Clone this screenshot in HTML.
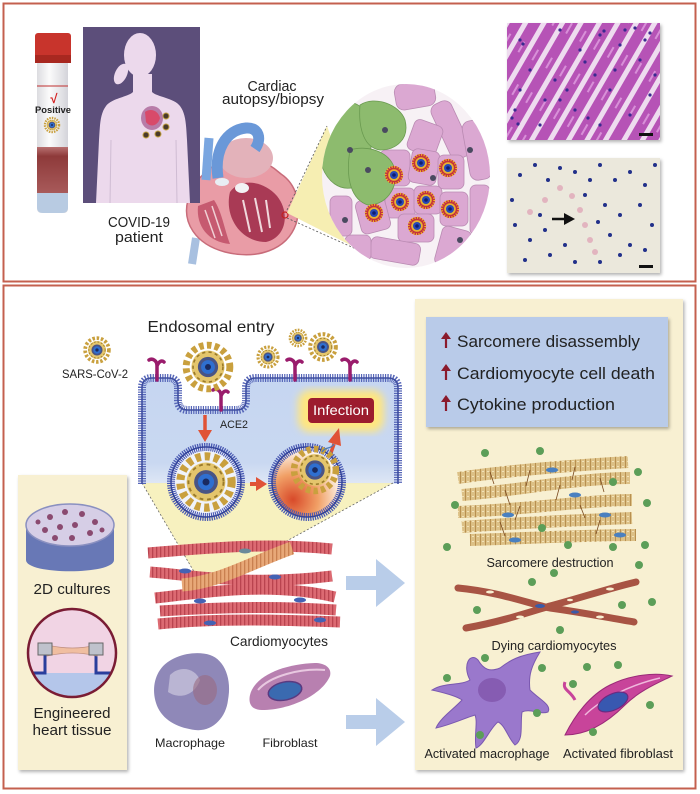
<!DOCTYPE html>
<html><head><meta charset="utf-8">
<style>
html,body{margin:0;padding:0;background:#fff;}
svg{display:block;}
text{font-family:"Liberation Sans",sans-serif;fill:#222;}
</style></head>
<body>
<svg width="700" height="794" viewBox="0 0 700 794" xmlns="http://www.w3.org/2000/svg">
<defs>
  <filter id="sh" x="-10%" y="-10%" width="120%" height="120%"><feDropShadow dx="1.5" dy="2" stdDeviation="1.5" flood-color="#000" flood-opacity="0.3"/></filter>
  <filter id="blur"><feGaussianBlur stdDeviation="4"/></filter>
  <linearGradient id="cellg" x1="0" y1="0" x2="0" y2="1">
    <stop offset="0" stop-color="#c6d6f1"/><stop offset="0.8" stop-color="#c9d8f1"/><stop offset="1" stop-color="#dfe7f5"/>
  </linearGradient>
  <radialGradient id="ves2" cx="0.3" cy="0.75" r="0.8">
    <stop offset="0" stop-color="#d84a2a"/><stop offset="0.45" stop-color="#f1a066"/><stop offset="0.8" stop-color="#fbe6d4"/><stop offset="1" stop-color="#fff"/>
  </radialGradient>
  <linearGradient id="tubeg" x1="0" y1="0" x2="1" y2="0">
    <stop offset="0" stop-color="#dcdce0"/><stop offset="0.4" stop-color="#fbfbfb"/><stop offset="1" stop-color="#d4d4da"/>
  </linearGradient>
  <linearGradient id="bloodg" x1="0" y1="0" x2="0" y2="1">
    <stop offset="0" stop-color="#b87070"/><stop offset="0.2" stop-color="#8e3a3a"/><stop offset="1" stop-color="#a85a5a"/>
  </linearGradient>
  <pattern id="stri" width="4" height="4" patternUnits="userSpaceOnUse">
    <rect width="4" height="4" fill="#dc6a72"/><rect width="1.3" height="4" fill="#b9444f"/>
  </pattern>
  <pattern id="strio" width="4" height="4" patternUnits="userSpaceOnUse">
    <rect width="4" height="4" fill="#e8a878"/><rect width="1.3" height="4" fill="#c98050"/>
  </pattern>
  <pattern id="tan" width="5" height="5" patternUnits="userSpaceOnUse">
    <rect width="5" height="5" fill="#dcc086"/><rect width="1" height="5" fill="#b89050"/><rect x="2" y="1" width="2" height="1" fill="#f2e2b8"/>
  </pattern>
  <pattern id="he" width="16" height="40" patternUnits="userSpaceOnUse" patternTransform="rotate(30)">
    <rect width="16" height="40" fill="#b652b6"/><rect x="0" y="0" width="5" height="40" fill="#eedcef"/><rect x="10" y="14" width="2" height="12" fill="#d890d8"/>
  </pattern>
  <clipPath id="tiss"><ellipse cx="406" cy="176" rx="84" ry="92"/></clipPath>
  <g id="vir">
    <circle r="9.5" fill="none" stroke="#c9a03e" stroke-width="3" stroke-dasharray="2 1.4"/>
    <circle r="7.2" fill="#e4c56c"/>
    <circle r="6.5" fill="none" stroke="#9a7a2a" stroke-width="0.7" stroke-dasharray="1.4 1.4"/>
    <circle r="4.4" fill="#4a5484"/>
    <circle r="3" fill="#2f6fd0"/>
    <circle r="1.3" fill="#1a2a60"/>
  </g>
  <g id="rvir">
    <circle r="9" fill="#c4303c"/>
    <circle r="8.3" fill="none" stroke="#f2c424" stroke-width="2" stroke-dasharray="1 1.6"/>
    <circle r="5.8" fill="#e8b232"/>
    <circle r="4" fill="#2848b8"/>
    <circle r="1.8" fill="#0f1f70"/>
  </g>
</defs>

<!-- ============ TOP PANEL ============ -->
<rect x="3.5" y="3.5" width="692" height="278" fill="#fff" stroke="#c4604f" stroke-width="2"/>

<!-- tube -->
<rect x="37" y="60" width="31" height="153" rx="4" fill="url(#tubeg)"/>
<rect x="37" y="147" width="31" height="46" fill="url(#bloodg)"/>
<path d="M37,193 L68,193 L68,207 Q68,213 62,213 L43,213 Q37,213 37,207 Z" fill="#b8cbe2"/>
<line x1="37" y1="86" x2="68" y2="86" stroke="#c03030" stroke-width="1"/>
<rect x="35" y="33" width="36" height="30" rx="3" fill="#c8342c"/>
<rect x="35" y="55" width="36" height="8" fill="#a82820"/>
<text x="54" y="103" font-size="13" text-anchor="middle" style="fill:#d42020" font-weight="bold">√</text>
<text x="53" y="113" font-size="9.5" text-anchor="middle" font-weight="bold" textLength="36" lengthAdjust="spacingAndGlyphs">Positive</text>
<use href="#vir" transform="translate(52,125) scale(0.75)"/>

<!-- heart (behind purple rect) -->
<path d="M196,238 L192,264" stroke="#a8c0e0" stroke-width="8" fill="none"/>
<path d="M188,200 C182,222 195,244 225,252 C257,260 287,250 296,224 C302,204 296,184 281,174 C265,160 244,150 224,160 C204,170 192,184 188,200 Z" fill="#e99ca6" stroke="#c86c7a" stroke-width="1.5"/>
<ellipse cx="246" cy="158" rx="27" ry="20" fill="#e3b2ba"/>
<path d="M230,192 C224,216 240,242 266,242 C287,237 290,212 277,196 C263,180 240,178 230,192 Z" fill="#a93a55"/>
<path d="M198,206 C196,226 208,242 230,244 C224,228 222,212 214,200 Z" fill="#c65a70"/>
<path d="M243,200 L250,232 M255,198 L262,232 M266,200 L270,228" stroke="#f0d8dc" stroke-width="2"/>
<path d="M205,210 L215,238 M212,206 L222,236" stroke="#f0d0d4" stroke-width="1.5"/>
<path d="M206,180 L209,138" stroke="#7aa6e0" stroke-width="9" fill="none"/>
<path d="M218,178 C214,150 226,130 246,128 C259,127 262,139 255,149" stroke="#6a98d8" stroke-width="11" fill="none"/>
<ellipse cx="222" cy="182" rx="7" ry="4" fill="#e8eef4"/>
<ellipse cx="242" cy="188" rx="7" ry="5" fill="#f2f2f4"/>
<circle cx="285" cy="215" r="3" fill="none" stroke="#c42020" stroke-width="1.2"/>

<!-- purple rect + silhouette -->
<rect x="83" y="27" width="117" height="176" fill="#5c4e7a"/>
<ellipse cx="121" cy="74" rx="6" ry="11" transform="rotate(25 121 74)" fill="#ecd9ec"/>
<ellipse cx="140" cy="55" rx="16" ry="22" fill="#ecd9ec"/>
<path d="M133,74 L133,92 C128,97 112,98 106,106 C100,114 100,125 99,140 L96,203 L190,203 L187,140 C186,125 186,114 180,106 C174,98 157,97 152,92 L152,74 Z" fill="#ecd9ec"/>
<path d="M111,140 L110,203 M176,140 L177,203" stroke="#cfbcd3" stroke-width="1"/>
<ellipse cx="152" cy="118" rx="11" ry="12" fill="#b87ca8"/>
<path d="M145,112 C150,108 158,110 160,118 C158,126 150,128 146,122 Z" fill="#d84a6a"/>
<circle cx="166" cy="116" r="3" fill="#4a3a2a" stroke="#c0a040" stroke-width="1"/>
<circle cx="166" cy="127" r="3" fill="#4a3a2a" stroke="#c0a040" stroke-width="1"/>
<circle cx="158" cy="134" r="3" fill="#4a3a2a" stroke="#c0a040" stroke-width="1"/>
<circle cx="146" cy="135" r="3" fill="#4a3a2a" stroke="#c0a040" stroke-width="1"/>

<text x="139" y="227" font-size="15" text-anchor="middle" textLength="62" lengthAdjust="spacingAndGlyphs">COVID-19</text>
<text x="139" y="242" font-size="15" text-anchor="middle" textLength="48" lengthAdjust="spacingAndGlyphs">patient</text>
<text x="272" y="91" font-size="15" text-anchor="middle" textLength="49" lengthAdjust="spacingAndGlyphs">Cardiac</text>
<text x="273" y="104" font-size="15" text-anchor="middle" textLength="102" lengthAdjust="spacingAndGlyphs">autopsy/biopsy</text>

<!-- wedge to tissue -->
<polygon points="287,213 327,126 374,257" fill="#f6eeb2"/>
<line x1="287" y1="210" x2="327" y2="126" stroke="#555" stroke-width="0.8" stroke-dasharray="2 2"/>
<line x1="287" y1="218" x2="374" y2="257" stroke="#555" stroke-width="0.8" stroke-dasharray="2 2"/>

<!-- tissue circle -->
<ellipse cx="406" cy="176" rx="84" ry="92" fill="#f7f1f5"/>
<g clip-path="url(#tiss)" stroke="#b98ab2" stroke-width="0.8" fill="#dba8d2">
  <rect x="395" y="82" width="40" height="26" rx="8" transform="rotate(-10 415 95)"/>
  <rect x="440" y="100" width="22" height="60" rx="8" transform="rotate(-25 451 130)"/>
  <rect x="466" y="120" width="22" height="60" rx="8" transform="rotate(-10 477 150)"/>
  <rect x="410" y="122" width="30" height="32" rx="6" transform="rotate(20 425 138)"/>
  <rect x="380" y="150" width="30" height="36" rx="6"/>
  <rect x="410" y="150" width="28" height="34" rx="6" transform="rotate(10 424 167)"/>
  <rect x="438" y="155" width="26" height="34" rx="6"/>
  <rect x="385" y="188" width="30" height="30" rx="6"/>
  <rect x="414" y="186" width="28" height="28" rx="6"/>
  <rect x="440" y="192" width="28" height="34" rx="6"/>
  <rect x="470" y="185" width="20" height="50" rx="6"/>
  <rect x="358" y="198" width="30" height="34" rx="6" transform="rotate(-15 373 215)"/>
  <rect x="398" y="214" width="36" height="28" rx="6"/>
  <rect x="438" y="228" width="30" height="40" rx="6" transform="rotate(15 453 248)"/>
  <rect x="370" y="240" width="50" height="22" rx="6" transform="rotate(10 395 251)"/>
  <rect x="330" y="196" width="22" height="40" rx="6"/>
  <rect x="345" y="235" width="26" height="26" rx="6"/>
</g>
<g clip-path="url(#tiss)" fill="#8dbb6e" stroke="#6a9a50" stroke-width="0.8">
  <path d="M322,110 C335,95 360,100 368,115 C375,140 370,170 360,185 C340,195 325,180 320,160 Z"/>
  <path d="M360,105 C375,95 400,105 405,120 C410,140 395,150 380,150 C365,148 358,130 360,105 Z"/>
  <path d="M350,150 C365,145 390,150 395,170 C398,190 385,205 368,205 C352,200 345,180 350,150 Z"/>
</g>
<g fill="#4a4a60"><circle cx="350" cy="150" r="3"/><circle cx="385" cy="130" r="3"/><circle cx="368" cy="170" r="3"/><circle cx="433" cy="178" r="3"/><circle cx="470" cy="150" r="3"/><circle cx="460" cy="240" r="3"/><circle cx="345" cy="220" r="3"/></g>
<use href="#rvir" x="394" y="175"/>
<use href="#rvir" x="421" y="163"/>
<use href="#rvir" x="448" y="168"/>
<use href="#rvir" x="400" y="202"/>
<use href="#rvir" x="426" y="200"/>
<use href="#rvir" x="450" y="209"/>
<use href="#rvir" x="374" y="213"/>
<use href="#rvir" x="417" y="226"/>

<!-- H&E -->
<rect x="507" y="23" width="153" height="117" fill="url(#he)" filter="url(#sh)"/>
<g fill="#3a2a90">
  <circle cx="520" cy="40" r="1.6"/><circle cx="523" cy="44" r="1.6"/><circle cx="560" cy="30" r="1.6"/><circle cx="600" cy="35" r="1.6"/><circle cx="604" cy="31" r="1.6"/><circle cx="620" cy="45" r="1.6"/><circle cx="640" cy="60" r="1.6"/>
  <circle cx="530" cy="70" r="1.6"/><circle cx="555" cy="80" r="1.6"/><circle cx="585" cy="62" r="1.6"/><circle cx="610" cy="90" r="1.6"/><circle cx="650" cy="95" r="1.6"/>
  <circle cx="515" cy="110" r="1.6"/><circle cx="540" cy="125" r="1.6"/><circle cx="575" cy="110" r="1.6"/><circle cx="600" cy="125" r="1.6"/><circle cx="630" cy="115" r="1.6"/>
  <circle cx="625" cy="30" r="1.6"/><circle cx="645" cy="40" r="1.6"/><circle cx="595" cy="75" r="1.6"/><circle cx="520" cy="90" r="1.6"/><circle cx="560" cy="100" r="1.6"/>
  <circle cx="512" cy="118" r="1.6"/><circle cx="518" cy="124" r="1.6"/><circle cx="545" cy="100" r="1.6"/><circle cx="580" cy="50" r="1.6"/><circle cx="635" cy="28" r="1.6"/><circle cx="650" cy="33" r="1.6"/>
  <circle cx="615" cy="70" r="1.6"/><circle cx="567" cy="90" r="1.6"/><circle cx="588" cy="118" r="1.6"/><circle cx="655" cy="75" r="1.6"/>
</g>
<rect x="639" y="133" width="14" height="3" fill="#111"/>

<!-- IHC -->
<rect x="507" y="158" width="153" height="115" fill="#ebe8dc" filter="url(#sh)"/>
<g fill="#e0a8b8" opacity="0.8">
  <circle cx="560" cy="188" r="3"/><circle cx="572" cy="196" r="3"/><circle cx="580" cy="210" r="3"/><circle cx="585" cy="225" r="3"/><circle cx="590" cy="240" r="3"/><circle cx="595" cy="252" r="3"/><circle cx="545" cy="200" r="3"/><circle cx="530" cy="212" r="3"/>
</g>
<g fill="#22308a">
  <circle cx="512" cy="200" r="2"/><circle cx="520" cy="175" r="2"/><circle cx="535" cy="165" r="2"/><circle cx="548" cy="180" r="2"/><circle cx="560" cy="168" r="2"/><circle cx="575" cy="172" r="2"/><circle cx="590" cy="180" r="2"/><circle cx="600" cy="165" r="2"/><circle cx="615" cy="180" r="2"/><circle cx="630" cy="172" r="2"/><circle cx="645" cy="185" r="2"/><circle cx="655" cy="165" r="2"/>
  <circle cx="515" cy="225" r="2"/><circle cx="530" cy="240" r="2"/><circle cx="545" cy="230" r="2"/><circle cx="525" cy="260" r="2"/><circle cx="550" cy="255" r="2"/><circle cx="565" cy="245" r="2"/><circle cx="585" cy="195" r="2"/><circle cx="605" cy="205" r="2"/><circle cx="620" cy="215" r="2"/><circle cx="640" cy="205" r="2"/><circle cx="652" cy="225" r="2"/>
  <circle cx="610" cy="235" r="2"/><circle cx="630" cy="245" r="2"/><circle cx="575" cy="262" r="2"/><circle cx="600" cy="262" r="2"/><circle cx="620" cy="255" r="2"/><circle cx="645" cy="250" r="2"/><circle cx="540" cy="215" r="2"/><circle cx="598" cy="222" r="2"/>
</g>
<path d="M552,219 L566,219" stroke="#111" stroke-width="2.5"/>
<path d="M564,213 L575,219 L564,225 Z" fill="#111"/>
<rect x="639" y="265" width="14" height="3" fill="#111"/>

<!-- ============ BOTTOM PANEL ============ -->
<rect x="3.5" y="285.5" width="692" height="503" fill="#fff" stroke="#c4604f" stroke-width="2"/>

<!-- right yellow panel -->
<rect x="415" y="299" width="268" height="471" fill="#f8f0d2" filter="url(#sh)"/>
<!-- left yellow panel -->
<rect x="18" y="475" width="109" height="295" fill="#f8f0d2" filter="url(#sh)"/>

<text x="211" y="332" font-size="16" text-anchor="middle" textLength="127" lengthAdjust="spacingAndGlyphs">Endosomal entry</text>
<use href="#vir" transform="translate(97,350) scale(1.25)"/>
<text x="95" y="378" font-size="11.5" text-anchor="middle" textLength="66" lengthAdjust="spacingAndGlyphs">SARS-CoV-2</text>

<!-- cell -->
<path d="M142,484 L142,388 Q142,378 152,378 L168,378 Q178,378 178,388 L178,400 Q178,410 188,410 L236,410 Q246,410 246,400 L246,388 Q246,378 256,378 L388,378 Q398,378 398,388 L398,484 Z" fill="url(#cellg)"/>
<polygon points="142,483 393,483 283,543 203,587" fill="#f6efb8" opacity="0.9"/>
<line x1="142" y1="483" x2="203" y2="587" stroke="#666" stroke-width="0.8" stroke-dasharray="2 2"/>
<line x1="393" y1="483" x2="283" y2="543" stroke="#666" stroke-width="0.8" stroke-dasharray="2 2"/>
<path d="M142,484 L142,388 Q142,378 152,378 L168,378 Q178,378 178,388 L178,400 Q178,410 188,410 L236,410 Q246,410 246,400 L246,388 Q246,378 256,378 L388,378 Q398,378 398,388 L398,484" fill="none" stroke="#5666b8" stroke-width="8" stroke-dasharray="1.2 1.2"/>
<path d="M142,484 L142,388 Q142,378 152,378 L168,378 Q178,378 178,388 L178,400 Q178,410 188,410 L236,410 Q246,410 246,400 L246,388 Q246,378 256,378 L388,378 Q398,378 398,388 L398,484" fill="none" stroke="#3e4ea0" stroke-width="1.6"/>

<!-- receptors -->
<g stroke="#9a1c6c" stroke-width="3.5" fill="none" stroke-linecap="round">
  <path d="M157,380 L157,366 C157,360 152,358 149,360 M157,366 C159,361 162,360 164,362"/>
  <path d="M221,410 L221,396 C221,390 216,388 213,390 M221,396 C223,391 226,390 228,392"/>
  <path d="M295,380 L295,366 C295,360 290,358 287,360 M295,366 C297,361 300,360 302,362"/>
  <path d="M350,380 L350,366 C350,360 345,358 342,360 M350,366 C352,361 355,360 357,362"/>
</g>
<use href="#vir" transform="translate(208,367) scale(2.3)"/>
<use href="#vir" transform="translate(268,357) scale(1.05)"/>
<use href="#vir" transform="translate(298,338) scale(0.85)"/>
<use href="#vir" transform="translate(323,347) scale(1.35)"/>
<text x="234" y="428" font-size="11" text-anchor="middle" textLength="28" lengthAdjust="spacingAndGlyphs">ACE2</text>

<!-- infection -->
<rect x="298" y="390" width="86" height="42" rx="12" fill="#ffe680" filter="url(#blur)"/>
<rect x="308" y="398" width="66" height="25" rx="4" fill="#9c1c2e"/>
<text x="341" y="415" font-size="13.5" text-anchor="middle" style="fill:#fff" textLength="56" lengthAdjust="spacingAndGlyphs">Infection</text>

<!-- arrows red -->
<path d="M205,415 L205,432" stroke="#e05236" stroke-width="3.5"/>
<path d="M198,430 L205,442 L212,430 Z" fill="#e05236"/>
<path d="M250,484 L258,484" stroke="#e05236" stroke-width="4"/>
<path d="M256,477 L267,484 L256,491 Z" fill="#e05236"/>
<path d="M327,464 L334,444" stroke="#e05236" stroke-width="3.5"/>
<path d="M328,442 L339,428 L341,446 Z" fill="#e05236"/>

<!-- vesicles -->
<circle cx="206" cy="482" r="35" fill="#f0f3fb"/>
<circle cx="206" cy="482" r="35" fill="none" stroke="#4858b2" stroke-width="8" stroke-dasharray="1.2 1"/>
<circle cx="206" cy="482" r="35" fill="none" stroke="#34449a" stroke-width="1.5"/>
<use href="#vir" transform="translate(206,482) scale(2.7)"/>
<circle cx="307" cy="482" r="35" fill="url(#ves2)"/>
<circle cx="307" cy="482" r="35" fill="none" stroke="#4858b2" stroke-width="8" stroke-dasharray="1.2 1"/>
<circle cx="307" cy="482" r="35" fill="none" stroke="#34449a" stroke-width="1.5"/>
<use href="#vir" transform="translate(315,470) scale(2.2)"/>
<path d="M322,452 C326,446 330,450 334,444" stroke="#4a7ab8" stroke-width="1.2" fill="none"/>

<!-- cardiomyocytes -->
<g fill="none" stroke-width="11">
  <path d="M148,553 C200,549 260,542 332,549" stroke="url(#stri)"/>
  <path d="M150,572 C200,576 250,586 332,576" stroke="url(#stri)"/>
  <path d="M155,598 C210,592 270,582 335,597" stroke="url(#stri)"/>
  <path d="M160,611 C220,607 280,606 336,610" stroke="url(#stri)"/>
  <path d="M158,624 C220,618 280,620 340,622" stroke="url(#stri)"/>
  <path d="M182,585 C220,582 250,563 292,548" stroke="url(#strio)" stroke-width="13"/>
</g>
<g fill="#4462b4">
  <ellipse cx="245" cy="551" rx="6" ry="2.5" fill="#6a8a9a"/><ellipse cx="185" cy="571" rx="6" ry="2.5"/><ellipse cx="275" cy="577" rx="6" ry="2.5"/><ellipse cx="300" cy="600" rx="6" ry="2.5"/>
  <ellipse cx="200" cy="601" rx="6" ry="2.5"/><ellipse cx="210" cy="623" rx="6" ry="2.5"/><ellipse cx="320" cy="620" rx="6" ry="2.5"/>
</g>
<text x="279" y="646" font-size="14" text-anchor="middle" textLength="98" lengthAdjust="spacingAndGlyphs">Cardiomyocytes</text>

<!-- macrophage -->
<path d="M160,670 C170,655 195,650 210,655 C225,660 232,680 228,700 C226,718 212,732 195,730 C180,728 165,722 158,708 C152,695 153,680 160,670 Z" fill="#8f88b8"/>
<path d="M170,675 C180,665 195,668 200,680 C195,695 180,700 168,692 Z" fill="#c4c0da" opacity="0.8"/>
<ellipse cx="205" cy="690" rx="12" ry="15" fill="#9a6a80" opacity="0.6"/>
<!-- fibroblast -->
<path d="M250,695 C255,675 285,664 315,663 C325,663 332,668 330,676 C322,695 290,710 262,710 C252,710 248,704 250,695 Z" fill="#b880b0"/>
<path d="M258,690 C270,676 300,668 325,670" stroke="#e8c8e0" stroke-width="2" fill="none"/>
<ellipse cx="285" cy="691" rx="17" ry="9" transform="rotate(-12 285 691)" fill="#3a6ab0" stroke="#5a3a80" stroke-width="1.5"/>
<text x="190" y="747" font-size="12" text-anchor="middle" textLength="70" lengthAdjust="spacingAndGlyphs">Macrophage</text>
<text x="290" y="747" font-size="12" text-anchor="middle" textLength="55" lengthAdjust="spacingAndGlyphs">Fibroblast</text>

<!-- blue arrows -->
<path d="M346,576 L376,576 L376,559 L405,583 L376,607 L376,590 L346,590 Z" fill="#b9cde9"/>
<path d="M346,715 L376,715 L376,698 L405,722 L376,746 L376,729 L346,729 Z" fill="#b9cde9"/>

<!-- left panel content -->
<path d="M26,525 L26,560 C26,575 114,575 114,560 L114,525 Z" fill="#6878b6"/>
<ellipse cx="70" cy="525" rx="44" ry="21" fill="#d6cee6" stroke="#8a90c0" stroke-width="1.5"/>
<g fill="#8a4a70">
  <circle cx="50" cy="517" r="3"/><circle cx="65" cy="512" r="3"/><circle cx="82" cy="514" r="3"/><circle cx="95" cy="522" r="3"/><circle cx="45" cy="530" r="3"/>
  <circle cx="60" cy="527" r="3"/><circle cx="75" cy="525" r="3"/><circle cx="90" cy="533" r="3"/><circle cx="55" cy="538" r="3"/><circle cx="72" cy="538" r="3"/><circle cx="38" cy="522" r="2.5"/><circle cx="102" cy="530" r="2.5"/>
</g>
<text x="72" y="594" font-size="15" text-anchor="middle" textLength="77" lengthAdjust="spacingAndGlyphs">2D cultures</text>

<clipPath id="eht"><circle cx="72" cy="653" r="43"/></clipPath>
<g clip-path="url(#eht)">
  <rect x="28" y="609" width="90" height="90" fill="#f1d4e4"/>
  <rect x="28" y="673" width="90" height="30" fill="#b4c6ea"/>
  <path d="M28,673 L45,673 L45,655 M118,673 L96,673 L96,655" stroke="#2a3e9c" stroke-width="3" fill="none"/>
</g>
<path d="M47,645 C65,649 80,649 97,645 L97,656 C80,652 65,652 47,656 Z" fill="#f0bea0" stroke="#c09080" stroke-width="0.8"/>
<rect x="38" y="643" width="14" height="12" fill="#bfc2cc" stroke="#666" stroke-width="1"/>
<rect x="89" y="643" width="14" height="12" fill="#bfc2cc" stroke="#666" stroke-width="1"/>
<circle cx="72" cy="653" r="44" fill="none" stroke="#7a1c34" stroke-width="2.5"/>
<text x="72" y="718" font-size="15" text-anchor="middle" textLength="77" lengthAdjust="spacingAndGlyphs">Engineered</text>
<text x="72" y="735" font-size="15" text-anchor="middle" textLength="79" lengthAdjust="spacingAndGlyphs">heart tissue</text>

<!-- right panel content -->
<rect x="426" y="317" width="242" height="110" fill="#b9cbe9" filter="url(#sh)"/>
<g fill="#8a1a2c" stroke="#8a1a2c">
  <path d="M446,348 L446,338" stroke-width="2.2"/><path d="M441,339 L446,332 L451,339 Z" stroke="none"/>
  <path d="M446,380 L446,370" stroke-width="2.2"/><path d="M441,371 L446,364 L451,371 Z" stroke="none"/>
  <path d="M446,411 L446,401" stroke-width="2.2"/><path d="M441,402 L446,395 L451,402 Z" stroke="none"/>
</g>
<text x="457" y="347" font-size="17" textLength="183" lengthAdjust="spacingAndGlyphs">Sarcomere disassembly</text>
<text x="457" y="379" font-size="17" textLength="198" lengthAdjust="spacingAndGlyphs">Cardiomyocyte cell death</text>
<text x="457" y="410" font-size="17" textLength="158" lengthAdjust="spacingAndGlyphs">Cytokine production</text>

<!-- sarcomere destruction -->
<g fill="none" stroke-width="12">
  <path d="M458,478 C510,470 580,465 628,462" stroke="url(#tan)"/>
  <path d="M462,495 C520,490 580,478 630,478" stroke="url(#tan)"/>
  <path d="M458,512 C520,510 590,500 632,500" stroke="url(#tan)"/>
  <path d="M462,527 C530,522 580,520 632,518" stroke="url(#tan)"/>
  <path d="M470,540 C530,538 590,535 636,535" stroke="url(#tan)"/>
</g>
<g stroke="#7a4a20" stroke-width="0.8" fill="none">
  <path d="M490,472 L494,484 M530,470 L526,486 M575,467 L572,480 M505,490 L510,505 M560,485 L556,500 M600,478 L604,492 M520,506 L515,520 M580,505 L585,518 M500,522 L505,536 M600,520 L596,534"/>
</g>
<g fill="#4a80c0">
  <ellipse cx="552" cy="470" rx="6" ry="2.5"/><ellipse cx="575" cy="495" rx="6" ry="2.5"/><ellipse cx="508" cy="515" rx="6" ry="2.5"/><ellipse cx="605" cy="515" rx="6" ry="2.5"/><ellipse cx="515" cy="540" rx="6" ry="2.5"/><ellipse cx="620" cy="535" rx="6" ry="2.5"/>
</g>
<text x="550" y="567" font-size="12.5" text-anchor="middle" textLength="127" lengthAdjust="spacingAndGlyphs">Sarcomere destruction</text>

<!-- dying cardiomyocytes -->
<g fill="none" stroke="#a85444" stroke-linecap="round">
  <path d="M458,588 C500,592 530,604 550,608 C580,612 610,618 634,622" stroke-width="7"/>
  <path d="M466,628 C500,622 530,612 550,606 C580,598 610,588 636,582" stroke-width="7"/>
</g>
<g fill="#f8f0d2">
  <ellipse cx="490" cy="592" rx="4" ry="1.5"/><ellipse cx="600" cy="617" rx="4" ry="1.5"/><ellipse cx="520" cy="617" rx="4" ry="1.5"/><ellipse cx="610" cy="589" rx="4" ry="1.5"/><ellipse cx="570" cy="600" rx="3" ry="1.2"/>
</g>
<g fill="#3a5aa8"><ellipse cx="540" cy="606" rx="5" ry="2"/><ellipse cx="575" cy="612" rx="4" ry="1.6"/></g>
<text x="554" y="650" font-size="12.5" text-anchor="middle" textLength="125" lengthAdjust="spacingAndGlyphs">Dying cardiomyocytes</text>

<!-- activated macrophage -->
<path d="M470,680 C462,665 470,652 478,660 C484,670 490,672 500,668 C510,660 520,655 540,652 C532,665 528,675 530,690 C540,700 552,705 548,712 C540,715 530,708 522,712 C520,725 524,740 515,745 C508,738 505,725 498,722 C490,728 484,745 476,748 C474,735 478,722 475,715 C465,718 450,725 436,728 C440,718 455,708 462,700 C455,695 440,692 432,690 C445,682 460,686 470,680 Z" fill="#9a78cc" stroke="#7a58b0" stroke-width="1"/>
<ellipse cx="492" cy="690" rx="14" ry="12" fill="#7a4aa0" opacity="0.6"/>
<!-- activated fibroblast -->
<path d="M565,735 C575,715 590,695 610,685 C630,675 655,672 672,676 C660,682 640,690 625,705 C610,720 590,735 565,735 Z" fill="#c8449a" stroke="#9a2a78" stroke-width="1"/>
<path d="M575,700 C570,690 562,690 565,682" stroke="#c8449a" stroke-width="3" fill="none"/>
<path d="M585,715 C600,700 630,685 660,678" stroke="#f0b8dc" stroke-width="1.5" fill="none"/>
<ellipse cx="613" cy="702" rx="16" ry="8" transform="rotate(-25 613 702)" fill="#3858b0" stroke="#6a2a80" stroke-width="1.2"/>
<text x="487" y="758" font-size="12.5" text-anchor="middle" textLength="125" lengthAdjust="spacingAndGlyphs">Activated macrophage</text>
<text x="618" y="758" font-size="12.5" text-anchor="middle" textLength="110" lengthAdjust="spacingAndGlyphs">Activated fibroblast</text>

<!-- green cytokine dots -->
<g fill="#5c9e58">
  <circle cx="485" cy="453" r="4"/><circle cx="540" cy="451" r="4"/><circle cx="638" cy="472" r="4"/><circle cx="613" cy="482" r="4"/><circle cx="455" cy="505" r="4"/><circle cx="647" cy="503" r="4"/>
  <circle cx="542" cy="528" r="4"/><circle cx="447" cy="547" r="4"/><circle cx="568" cy="545" r="4"/><circle cx="613" cy="547" r="4"/><circle cx="645" cy="545" r="4"/>
  <circle cx="639" cy="565" r="4"/><circle cx="554" cy="573" r="4"/><circle cx="532" cy="582" r="4"/><circle cx="477" cy="610" r="4"/><circle cx="622" cy="605" r="4"/><circle cx="652" cy="602" r="4"/>
  <circle cx="560" cy="630" r="4"/><circle cx="485" cy="658" r="4"/><circle cx="542" cy="668" r="4"/><circle cx="587" cy="667" r="4"/><circle cx="618" cy="665" r="4"/><circle cx="447" cy="678" r="4"/>
  <circle cx="573" cy="684" r="4"/><circle cx="650" cy="705" r="4"/><circle cx="537" cy="713" r="4"/><circle cx="480" cy="735" r="4"/><circle cx="593" cy="732" r="4"/>
</g>
</svg>
</body></html>
